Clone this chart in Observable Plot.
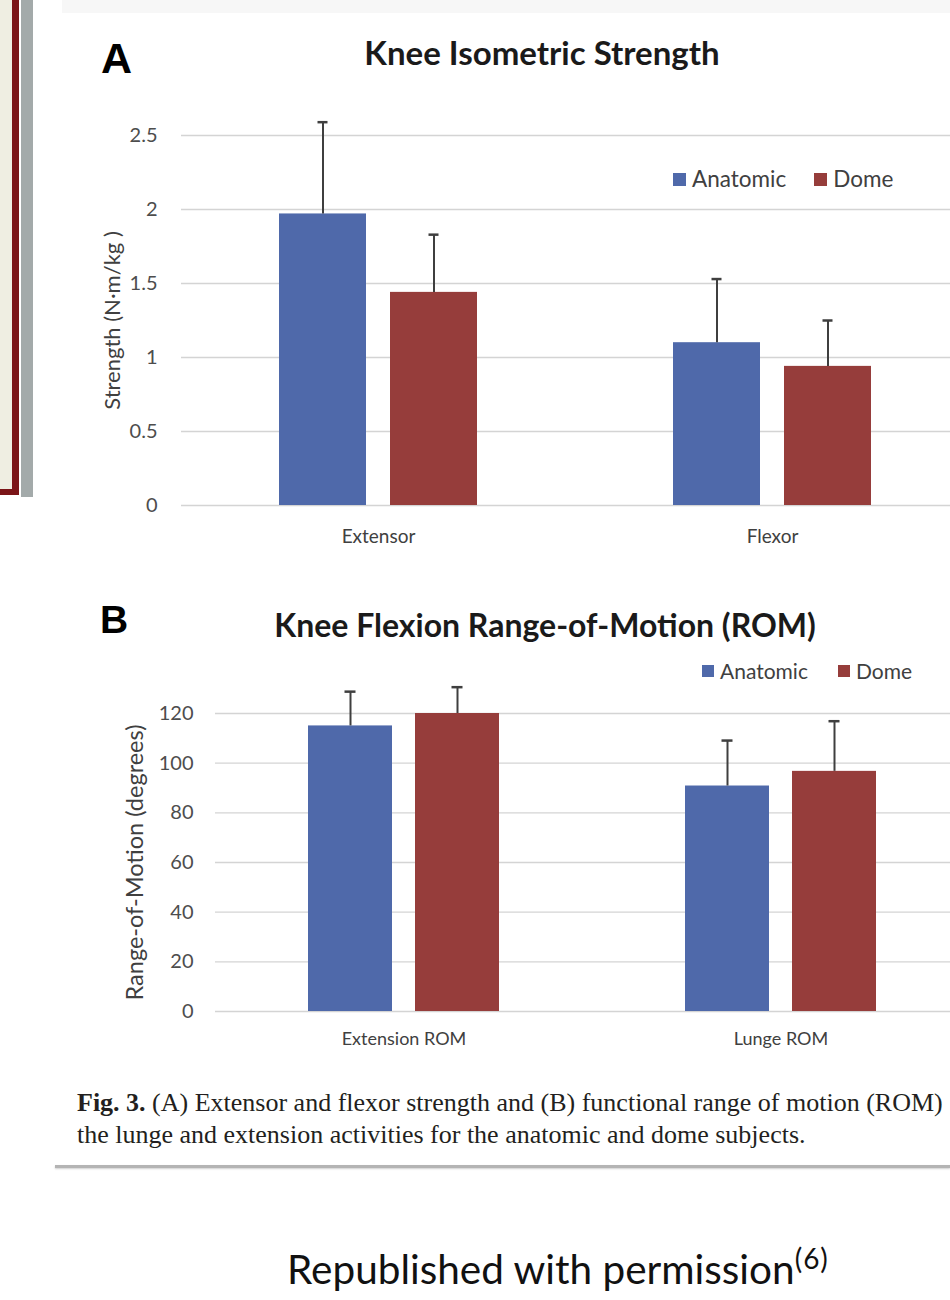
<!DOCTYPE html>
<html><head><meta charset="utf-8">
<script src="https://cdn.jsdelivr.net/npm/d3@7"></script>
<script src="https://cdn.jsdelivr.net/npm/@observablehq/plot@0.6"></script>
<style>
body{margin:0;background:#fff;}
#page{position:relative;width:950px;height:1300px;overflow:hidden;background:#fff;font-family:Lato,"Open Sans",sans-serif;}
.abs{position:absolute;}
.chart{width:969px;}
.chart svg{max-width:none !important;}
.title{font-weight:bold;color:#1a1a1a;line-height:1;white-space:nowrap;transform:translateX(-50%);}
.panel{font-family:"Liberation Sans",Arial,sans-serif;font-weight:bold;color:#000;line-height:1;}
.leg{display:flex;align-items:center;color:#404040;line-height:1;white-space:nowrap;}
.sw{display:inline-block;margin-right:6px;}
.cap{font-family:"Liberation Serif","Times New Roman",serif;font-size:26px;line-height:32px;color:#231f20;white-space:nowrap;}
</style></head><body>
<div id="page">
  <div class="abs" style="left:0;top:0;width:12px;height:490px;background:#efeee2"></div>
  <div class="abs" style="left:12px;top:0;width:7px;height:495px;background:#7b1518"></div>
  <div class="abs" style="left:0;top:489px;width:19px;height:6px;background:#7b1518"></div>
  <div class="abs" style="left:21px;top:0;width:12px;height:497px;background:#a3aaaa"></div>
  <div class="abs" style="left:62px;top:0;width:888px;height:13px;background:#f7f7f7"></div>

  <div class="abs panel" style="left:101px;top:37px;font-size:43px">A</div>
  <div class="abs title" id="titleA" style="left:542px;top:36px;font-size:33px">Knee Isometric Strength</div>
  <div class="abs chart" id="chartA" style="left:0;top:100px"></div>
  <div class="abs leg" id="legendA" style="left:673px;top:168px;font-size:22.5px"></div>

  <div class="abs panel" style="left:100px;top:600px;font-size:39px">B</div>
  <div class="abs title" id="titleB" style="left:545px;top:609px;font-size:32px">Knee Flexion Range-of-Motion (ROM)</div>
  <div class="abs chart" id="chartB" style="left:0;top:680px"></div>
  <div class="abs leg" id="legendB" style="left:702px;top:660px;font-size:21px"></div>

  <div class="abs cap" style="left:77px;top:1087px"><b>Fig. 3.</b> (A) Extensor and flexor strength and (B) functional range of motion (ROM)<br>the lunge and extension activities for the anatomic and dome subjects.</div>
  <div class="abs" style="left:55px;top:1165px;width:895px;height:3px;background:#b4b4b4;box-shadow:0 1px 2px #d0d0d0"></div>
  <div class="abs" style="left:287px;top:1244px;font-size:40.5px;line-height:1;color:#111;white-space:nowrap">Republished with permission<sup style="font-size:28px;letter-spacing:1px">(6)</sup></div>
</div>
<script>
// ---- data ----
const series = ["Anatomic", "Dome"];
const seriesColors = ["#4f69aa", "#963d3b"];

const strengthCategories = ["Extensor", "Flexor"];
const strengthAnatomic = [1.97, 1.10];
const strengthDome = [1.44, 0.94];
const strengthAnatomicSD = [0.62, 0.43];
const strengthDomeSD = [0.39, 0.31];
const strengthTicks = [0, 0.5, 1, 1.5, 2, 2.5];

const romCategories = ["Extension ROM", "Lunge ROM"];
const romAnatomic = [115.0, 90.8];
const romDome = [120.0, 96.7];
const romAnatomicSD = [13.8, 18.3];
const romDomeSD = [10.6, 20.2];
const romTicks = [0, 20, 40, 60, 80, 100, 120];

function rowsOf(cats, a, d, aSD, dSD) {
  const rows = [];
  cats.forEach((c, i) => {
    rows.push({cat: c, series: series[0], mean: a[i], upper: a[i] + aSD[i]});
    rows.push({cat: c, series: series[1], mean: d[i], upper: d[i] + dSD[i]});
  });
  return rows;
}

function chart(o) {
  return Plot.plot({
    width: 969, height: o.height,
    marginTop: o.marginTop, marginBottom: o.marginBottom, marginLeft: o.marginLeft, marginRight: 0,
    style: {fontFamily: "Lato, 'Open Sans', sans-serif", fontSize: "20px", color: "#4d4d4d", background: "transparent", overflow: "visible", maxWidth: "none"},
    fx: {domain: o.cats, padding: 0},
    x: {domain: series, paddingInner: o.padIn, paddingOuter: o.padOut, axis: null},
    y: {domain: [0, o.yMax]},
    color: {domain: series, range: seriesColors},
    marks: [
      Plot.gridY({ticks: o.ticks, stroke: "#d4d4d4", strokeOpacity: 1, strokeWidth: 1.4}),
      Plot.axisY({ticks: o.ticks, tickSize: 0, tickPadding: o.tickPadY, tickFormat: d => String(d), label: null, fontSize: o.tickFont}),
      Plot.axisY({ticks: [], tickSize: 0, label: o.yLabel, labelAnchor: "center", labelOffset: o.labelOffset, labelArrow: "none", fontSize: o.labelFont, fill: "#404040"}),
      Plot.axisFx({anchor: "bottom", tickSize: 0, tickPadding: o.tickPadX, label: null, fontSize: o.xFont, fill: "#404040"}),
      Plot.barY(o.rows, {fx: "cat", x: "series", y: "mean", fill: "series"}),
      Plot.ruleX(o.rows, {fx: "cat", x: "series", y1: "mean", y2: "upper", stroke: "#3f3f3f", strokeWidth: 2}),
      Plot.tickY(o.rows, {fx: "cat", x: "series", y: "upper", stroke: "#3f3f3f", strokeWidth: 2.5, insetLeft: o.capInset, insetRight: o.capInset})
    ]
  });
}

document.getElementById("chartA").appendChild(chart({
  rows: rowsOf(strengthCategories, strengthAnatomic, strengthDome, strengthAnatomicSD, strengthDomeSD),
  cats: strengthCategories, ticks: strengthTicks, yMax: 2.5,
  height: 460, marginTop: 35, marginBottom: 55, marginLeft: 181,
  padIn: 0.214, padOut: 0.866, tickPadY: 24, tickPadX: 24, tickFont: 20, xFont: 19,
  yLabel: "Strength (N·m/kg )", labelOffset: 77, labelFont: 22, capInset: 38.5
}));

document.getElementById("chartB").appendChild(chart({
  rows: rowsOf(romCategories, romAnatomic, romDome, romAnatomicSD, romDomeSD),
  cats: romCategories, ticks: romTicks, yMax: 120,
  height: 381, marginTop: 33, marginBottom: 50, marginLeft: 215,
  padIn: 0.215, padOut: 0.869, tickPadY: 22, tickPadX: 21, tickFont: 20, xFont: 18,
  yLabel: "Range-of-Motion (degrees)", labelOffset: 89, labelFont: 23.5, capInset: 36.5
}));

function legend(el, gap, sq) {
  series.forEach((s, i) => {
    const item = document.createElement("span");
    item.className = "leg";
    item.style.marginRight = i === 0 ? gap + "px" : "0";
    const sw = document.createElement("span");
    sw.className = "sw";
    sw.style.width = sq + "px"; sw.style.height = sq + "px"; sw.style.background = seriesColors[i];
    item.appendChild(sw);
    item.appendChild(document.createTextNode(s));
    el.appendChild(item);
  });
}
legend(document.getElementById("legendA"), 28, 13);
legend(document.getElementById("legendB"), 30, 12);
</script>
</body></html>
